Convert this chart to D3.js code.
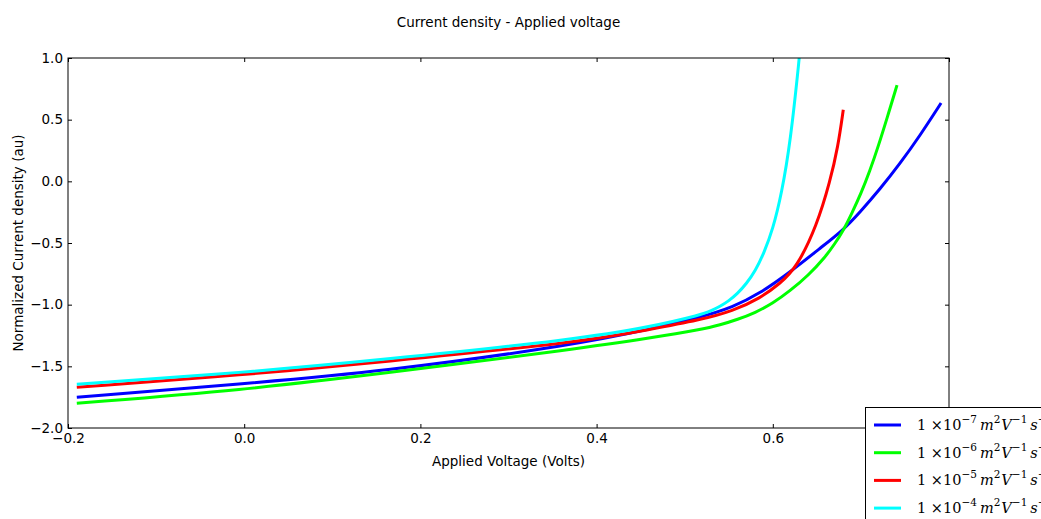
<!DOCTYPE html>
<html>
<head>
<meta charset="utf-8">
<script src="https://cdn.jsdelivr.net/npm/d3@7"></script>
<style>
body {margin:0;background:#fff;}
svg {display:block;font-family:"DejaVu Sans",sans-serif;}
.tick text {font-size:13.5px;fill:#000;font-family:"DejaVu Sans",sans-serif;}
.lab {font-size:13.5px;}
.leg {font-family:"DejaVu Serif","Liberation Serif",serif;font-size:14.5px;}
</style>
</head>
<body>
<svg id="chart" width="1041" height="519"></svg>
<script>
// values
var exponents = [-7, -6, -5, -4];
var colors = ["#0000ff", "#00ff00", "#ff0000", "#00ffff"];

var voltBlue = [-0.19, 0.0, 0.154, 0.381, 0.461, 0.517, 0.555, 0.585, 0.619, 0.654, 0.68, 0.699, 0.722, 0.744, 0.767, 0.791];
var currBlue = [-1.75, -1.64, -1.546, -1.32, -1.197, -1.105, -1.02, -0.91, -0.74, -0.54, -0.395, -0.25, -0.06, 0.14, 0.37, 0.635];

var voltGreen = [-0.19, 0.0, 0.154, 0.381, 0.461, 0.52, 0.54, 0.56, 0.58, 0.6, 0.62, 0.64, 0.66, 0.67, 0.68, 0.69, 0.70, 0.71, 0.72, 0.73, 0.741];
var currGreen = [-1.80, -1.69, -1.562, -1.355, -1.27, -1.20, -1.165, -1.12, -1.065, -0.99, -0.885, -0.765, -0.61, -0.51, -0.40, -0.255, -0.10, 0.08, 0.29, 0.52, 0.78];

var voltRed = [-0.19, 0.0, 0.154, 0.381, 0.461, 0.517, 0.555, 0.585, 0.608, 0.627, 0.65, 0.665, 0.674, 0.68];
var currRed = [-1.67, -1.57, -1.465, -1.305, -1.20, -1.125, -1.05, -0.95, -0.83, -0.70, -0.36, 0.0, 0.28, 0.58];

var voltCyan = [-0.19, 0.0, 0.154, 0.381, 0.461, 0.52, 0.53, 0.54, 0.55, 0.56, 0.57, 0.58, 0.59, 0.60, 0.61, 0.62, 0.63, 0.634];
var currCyan = [-1.645, -1.55, -1.449, -1.278, -1.18, -1.08, -1.05, -1.015, -0.97, -0.91, -0.83, -0.73, -0.58, -0.39, -0.10, 0.32, 0.99, 1.3];

var xTicks = [-0.2, 0.0, 0.2, 0.4, 0.6, 0.8];
var yTicks = [-2.0, -1.5, -1.0, -0.5, 0.0, 0.5, 1.0];

var series = [
  {v: voltBlue, c: currBlue},
  {v: voltGreen, c: currGreen},
  {v: voltRed, c: currRed},
  {v: voltCyan, c: currCyan}
];

var svg = d3.select("#chart");
var L = 68, R = 949, T = 58, B = 428;

var x = d3.scaleLinear().domain([-0.2, 0.8]).range([L, R]);
var y = d3.scaleLinear().domain([-2.0, 1.0]).range([B, T]);
var fmt = function(d) { return d3.format(".1f")(d).replace("-", "\u2212"); };

svg.append("clipPath").attr("id", "clip")
  .append("rect").attr("x", L).attr("y", T).attr("width", R - L).attr("height", B - T);

var line = d3.line()
  .x(function(d) { return x(d[0]); })
  .y(function(d) { return y(d[1]); })
  .curve(d3.curveBasis);

var g = svg.append("g").attr("clip-path", "url(#clip)");
series.forEach(function(s, i) {
  g.append("path")
    .datum(d3.zip(s.v, s.c))
    .attr("d", line)
    .attr("fill", "none")
    .attr("stroke", colors[i])
    .attr("stroke-width", 3);
});

// axes, ticks inward on all sides
svg.append("g").attr("transform", "translate(0," + B + ")")
  .call(d3.axisBottom(x).tickValues(xTicks).tickFormat(fmt).tickSizeInner(-4).tickSizeOuter(0).tickPadding(5))
  .call(function(a) { a.select(".domain").remove(); });
svg.append("g").attr("transform", "translate(0," + T + ")")
  .call(d3.axisTop(x).tickValues(xTicks).tickFormat("").tickSizeInner(-4).tickSizeOuter(0))
  .call(function(a) { a.select(".domain").remove(); });
svg.append("g").attr("transform", "translate(" + L + ",0)")
  .call(d3.axisLeft(y).tickValues(yTicks).tickFormat(fmt).tickSizeInner(-4).tickSizeOuter(0).tickPadding(5))
  .call(function(a) { a.select(".domain").remove(); });
svg.append("g").attr("transform", "translate(" + R + ",0)")
  .call(d3.axisRight(y).tickValues(yTicks).tickFormat("").tickSizeInner(-4).tickSizeOuter(0))
  .call(function(a) { a.select(".domain").remove(); });

svg.append("rect").attr("x", L).attr("y", T).attr("width", R - L).attr("height", B - T)
  .attr("fill", "none").attr("stroke", "#000").attr("stroke-width", 1);

svg.append("text").attr("class", "lab").attr("x", (L + R) / 2).attr("y", 27)
  .attr("text-anchor", "middle").text("Current density - Applied voltage");
svg.append("text").attr("class", "lab").attr("x", (L + R) / 2).attr("y", 466)
  .attr("text-anchor", "middle").text("Applied Voltage (Volts)");
svg.append("text").attr("class", "lab")
  .attr("transform", "translate(23," + ((T + B) / 2) + ") rotate(-90)")
  .attr("text-anchor", "middle").text("Normalized Current density (au)");

// legend
var lg = svg.append("g");
lg.append("rect").attr("x", 865.5).attr("y", 407.5).attr("width", 200).attr("height", 130)
  .attr("fill", "#fff").attr("stroke", "#000");
exponents.forEach(function(e, i) {
  var yy = 425 + i * 27.7;
  lg.append("line").attr("x1", 874).attr("x2", 901).attr("y1", yy).attr("y2", yy)
    .attr("stroke", colors[i]).attr("stroke-width", 3);
  var t = lg.append("text").attr("class", "leg").attr("x", 917).attr("y", yy + 5);
  t.append("tspan").text("1 \u00d710");
  t.append("tspan").attr("dy", -7).attr("font-size", 10.5).text("\u2212" + (-e));
  t.append("tspan").attr("dy", 7).attr("dx", 3).attr("font-style", "italic").text("m");
  t.append("tspan").attr("dy", -7).attr("font-size", 10.5).text("2");
  t.append("tspan").attr("dy", 7).attr("dx", 1).attr("font-style", "italic").text("V");
  t.append("tspan").attr("dy", -7).attr("font-size", 10.5).text("\u22121");
  t.append("tspan").attr("dy", 7).attr("dx", 3).attr("font-style", "italic").text("s");
  t.append("tspan").attr("dy", -7).attr("font-size", 10.5).text("\u22121");
});
</script>
</body>
</html>
